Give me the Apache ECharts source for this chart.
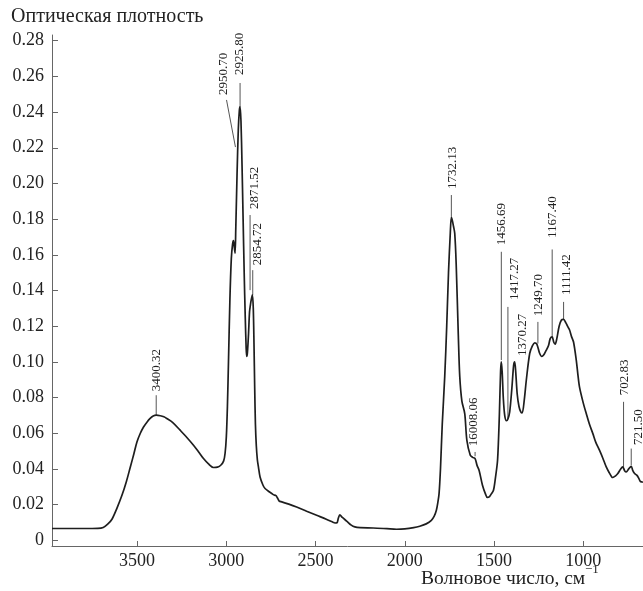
<!DOCTYPE html>
<html>
<head>
<meta charset="utf-8">
<style>
  html, body { margin: 0; padding: 0; background: #fff; }
  #main { width: 643px; height: 591px; }
</style>
</head>
<body>
<div id="main"></div>
<script src="https://cdn.jsdelivr.net/npm/echarts@6.0.0/dist/echarts.min.js"></script>
<script>
// IR spectrum: wavenumber (cm-1) and optical density
var wavenumber = [
  3977, 3900, 3800, 3720, 3690, 3665, 3641, 3615, 3585, 3560, 3538, 3518, 3501, 3482, 3464, 3445, 3427, 3410, 3393, 3370,
  3350, 3334, 3300, 3259, 3220, 3184, 3155, 3128, 3100, 3072, 3050, 3030, 3015, 3007, 3000, 2994, 2988, 2980, 2972, 2965,
  2960, 2955, 2951, 2947, 2940, 2933, 2927, 2923, 2918, 2912, 2906, 2900, 2894, 2889, 2886, 2882, 2876, 2870, 2865, 2860,
  2854, 2849, 2845, 2841, 2837, 2832, 2826, 2820, 2811, 2795, 2783, 2760, 2737, 2722, 2715, 2705, 2700, 2650, 2606, 2550,
  2494, 2440, 2400, 2392, 2380, 2372, 2364, 2350, 2326, 2300, 2280, 2250, 2177, 2100, 2046, 2000, 1950, 1916, 1880, 1851,
  1835, 1823, 1815, 1808, 1800, 1790, 1776, 1765, 1755, 1745, 1739, 1733, 1727, 1720, 1712, 1700, 1692, 1680, 1664, 1652,
  1633, 1620, 1606, 1595, 1583, 1565, 1548, 1537, 1525, 1515, 1503, 1492, 1480, 1470, 1463, 1459, 1454, 1448, 1440, 1430,
  1422, 1412, 1400, 1390, 1384, 1378, 1370, 1360, 1350, 1342, 1330, 1319, 1300, 1285, 1272, 1260, 1245, 1232, 1222, 1210,
  1195, 1185, 1174, 1165, 1157, 1148, 1135, 1122, 1110, 1098, 1088, 1077, 1065, 1054, 1039, 1030, 1021, 1000, 983, 965,
  946, 930, 909, 890, 871, 855, 840, 834, 820, 806, 790, 778, 768, 759, 745, 731, 722, 712, 700, 690,
  680, 670, 665
];
var density = [
  0.0066, 0.0066, 0.0066, 0.0067, 0.0072, 0.0090, 0.0118, 0.0175, 0.0252, 0.0330, 0.0411, 0.0485, 0.0551, 0.0600, 0.0635, 0.0662, 0.0683, 0.0696, 0.0701, 0.0698,
  0.0692, 0.0683, 0.0660, 0.0617, 0.0575, 0.0533, 0.0495, 0.0458, 0.0428, 0.0408, 0.0410, 0.0422, 0.0445, 0.0488, 0.0580, 0.0750, 0.1000, 0.1350, 0.1580, 0.1660,
  0.1680, 0.1640, 0.1610, 0.1750, 0.2050, 0.2300, 0.2410, 0.2430, 0.2350, 0.2100, 0.1800, 0.1500, 0.1250, 0.1080, 0.1030, 0.1050, 0.1150, 0.1280, 0.1320, 0.1350,
  0.1375, 0.1300, 0.1100, 0.0850, 0.0650, 0.0530, 0.0450, 0.0410, 0.0355, 0.0310, 0.0290, 0.0272, 0.0256, 0.0250, 0.0240, 0.0222, 0.0218, 0.0203, 0.0187, 0.0163,
  0.0140, 0.0118, 0.0100, 0.0097, 0.0098, 0.0125, 0.0142, 0.0128, 0.0108, 0.0085, 0.0075, 0.0071, 0.0069, 0.0065, 0.0062, 0.0064, 0.0071, 0.0079, 0.0092, 0.0112,
  0.0135, 0.0168, 0.0210, 0.0260, 0.0400, 0.0650, 0.0920, 0.1200, 0.1500, 0.1720, 0.1810, 0.1790, 0.1760, 0.1720, 0.1550, 0.1150, 0.0920, 0.0780, 0.0710, 0.0560,
  0.0477, 0.0465, 0.0458, 0.0420, 0.0390, 0.0310, 0.0260, 0.0240, 0.0245, 0.0260, 0.0280, 0.0350, 0.0450, 0.0700, 0.0950, 0.1000, 0.0940, 0.0800, 0.0700, 0.0670,
  0.0680, 0.0720, 0.0850, 0.0980, 0.1000, 0.0940, 0.0820, 0.0750, 0.0720, 0.0714, 0.0790, 0.0897, 0.1047, 0.1090, 0.1107, 0.1100, 0.1050, 0.1030, 0.1038, 0.1060,
  0.1090, 0.1130, 0.1140, 0.1110, 0.1100, 0.1130, 0.1200, 0.1235, 0.1238, 0.1220, 0.1200, 0.1180, 0.1140, 0.1110, 0.1010, 0.0930, 0.0860, 0.0770, 0.0710, 0.0650,
  0.0598, 0.0550, 0.0505, 0.0460, 0.0411, 0.0380, 0.0355, 0.0352, 0.0360, 0.0374, 0.0400, 0.0411, 0.0390, 0.0383, 0.0400, 0.0415, 0.0390, 0.0374, 0.0365, 0.0350,
  0.0330, 0.0327, 0.0325
];

var xTicks = [1000, 1500, 2000, 2500, 3000, 3500];
var yTicks = [0, 0.02, 0.04, 0.06, 0.08, 0.10, 0.12, 0.14, 0.16, 0.18, 0.20, 0.22, 0.24, 0.26, 0.28];

// peak labels: text, leader line bottom (on curve), leader line top, text anchor (bottom of rotated text)
var peakText   = ['3400.32', '2950.70', '2925.80', '2871.52', '2854.72', '1732.13', '16008.06', '1456.69', '1417.27', '1370.27', '1249.70', '1167.40', '1111.42', '702.83', '721.50'];
var lineBotWn  = [3393, 2949, 2923, 2867, 2852, 1739, 1606, 1459, 1422, 1340, 1254, 1174, 1110, 774, 731];
var lineBotAbs = [0.0701, 0.2204, 0.2428, 0.1402, 0.1374, 0.1813, 0.0471, 0.1010, 0.0680, 0.1021, 0.1103, 0.1140, 0.1238, 0.0411, 0.0420];
var lineTopWn  = [3393, 2999, 2923, 2867, 2852, 1739, 1606, 1459, 1422, 1340, 1254, 1174, 1110, 774, 731];
var lineTopAbs = [0.0813, 0.2468, 0.2563, 0.1823, 0.1514, 0.1935, 0.0495, 0.1617, 0.1308, 0.1021, 0.1224, 0.1630, 0.1336, 0.0776, 0.0514];
var textWn     = [3393, 3018, 2923, 2839, 2823, 1731, 1614, 1459, 1384, 1340, 1250, 1172, 1093, 770, 691];
var textAbs    = [0.0824, 0.2485, 0.2597, 0.1845, 0.1531, 0.1957, 0.0516, 0.1643, 0.1336, 0.1021, 0.1245, 0.1683, 0.1363, 0.0802, 0.0523];

var serif = "'Liberation Serif', 'Times New Roman', serif";

var curve = wavenumber.map(function (w, i) { return [w, density[i]]; });
var peaks = peakText.map(function (t, i) {
  return [lineBotWn[i], lineBotAbs[i], lineTopWn[i], lineTopAbs[i], textWn[i], textAbs[i]];
});

var chart = echarts.init(document.getElementById('main'));
var option = {
  animation: false,
  backgroundColor: '#fff',
  grid: { left: 52, right: 0, top: 35, bottom: 45 },
  xAxis: {
    type: 'value',
    inverse: true,
    min: 665,
    max: 3977,
    axisLine: { onZero: false, lineStyle: { color: '#666', width: 1 } },
    axisTick: { inside: true, length: 5, customValues: xTicks, lineStyle: { color: '#666' } },
    axisLabel: {
      customValues: xTicks, margin: 6, fontFamily: serif, fontSize: 18, color: '#222',
      formatter: function (v) { return String(v); }
    },
    splitLine: { show: false }
  },
  yAxis: {
    type: 'value',
    min: -0.0032,
    max: 0.2832,
    axisLine: { show: true, onZero: false, lineStyle: { color: '#666', width: 1 } },
    axisTick: { show: true, inside: true, length: 6, customValues: yTicks, lineStyle: { color: '#666' } },
    axisLabel: {
      customValues: yTicks, margin: 8, fontFamily: serif, fontSize: 18, color: '#222',
      formatter: function (v) { return Math.abs(v) < 1e-9 ? '0' : v.toFixed(2); }
    },
    splitLine: { show: false }
  },
  series: [
    {
      type: 'line',
      data: curve,
      showSymbol: false,
      smooth: 0.3,
      lineStyle: { color: '#1e1e1e', width: 1.7 },
      z: 3
    },
    {
      type: 'custom',
      data: peaks,
      clip: false,
      z: 2,
      renderItem: function (params, api) {
        var i = params.dataIndex;
        var p0 = api.coord([api.value(0), api.value(1)]);
        var p1 = api.coord([api.value(2), api.value(3)]);
        var pt = api.coord([api.value(4), api.value(5)]);
        return {
          type: 'group',
          children: [
            {
              type: 'line',
              shape: { x1: p0[0], y1: p0[1], x2: p1[0], y2: p1[1] },
              style: { stroke: '#555', lineWidth: 1 }
            },
            {
              type: 'text',
              x: pt[0], y: pt[1] - 2,
              rotation: Math.PI / 2,
              style: {
                text: peakText[i], x: 0, y: 0,
                align: 'left', verticalAlign: 'middle',
                font: '13px ' + serif, fill: '#222'
              }
            }
          ]
        };
      }
    }
  ],
  graphic: [
    {
      type: 'text', left: 11, top: 7,
      style: { text: 'Оптическая плотность', font: '20px ' + serif, fill: '#222' }
    },
    {
      type: 'text', left: 421, top: 569,
      style: { text: 'Волновое число, см', font: '19.5px ' + serif, fill: '#222' }
    },
    {
      type: 'text', left: 585, top: 563,
      style: { text: '−1', font: '13px ' + serif, fill: '#222' }
    }
  ]
};
chart.setOption(option);
</script>
</body>
</html>
